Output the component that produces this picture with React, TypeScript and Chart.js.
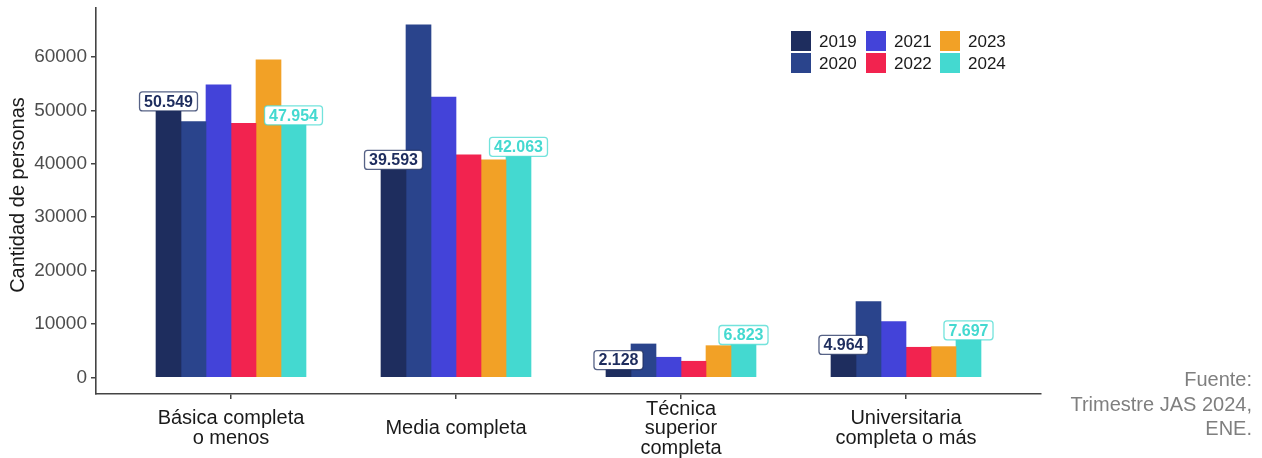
import React, { useEffect, useRef } from 'react';
import { Chart, registerables } from 'chart.js';

Chart.register(...registerables);

const categories: string[][] = [
  ['Básica completa', 'o menos'],
  ['Media completa'],
  ['Técnica', 'superior', 'completa'],
  ['Universitaria', 'completa o más'],
];
const years = ['2019', '2020', '2021', '2022', '2023', '2024'];
const colors = ['#1e2d5e', '#2a448c', '#4343d9', '#f2234f', '#f2a126', '#44d9d0'];

const v2019 = [50549, 39593, 2128, 4964];
const v2020 = [47900, 66000, 6270, 14200];
const v2021 = [54800, 52500, 3780, 10450];
const v2022 = [47600, 41700, 3030, 5650];
const v2023 = [59460, 40730, 5950, 5770];
const v2024 = [47954, 42063, 6823, 7697];

const yTicks = [0, 10000, 20000, 30000, 40000, 50000, 60000];
const labeledSeries = [0, 5];
const yTitle = 'Cantidad de personas';
const sourceLines = ['Fuente:', 'Trimestre JAS 2024,', 'ENE.'];

const FONT = '"Liberation Sans", Arial, Helvetica, sans-serif';

function fmt(v: number): string {
  return String(v).replace(/\B(?=(\d{3})+(?!\d))/g, '.');
}

export default function App() {
  const ref = useRef<HTMLCanvasElement>(null);

  useEffect(() => {
    if (!ref.current) return;
    const series = [v2019, v2020, v2021, v2022, v2023, v2024];
    const datasets = series.map((vals, i) => ({
      label: years[i],
      data: vals.map((v, j) => ({ x: j + 1, y: v })),
      backgroundColor: colors[i],
      borderWidth: 0,
      barThickness: 25,
    }));

    const labelPlugin = {
      id: 'valueLabels',
      afterDatasetsDraw(chart: any) {
        const ctx = chart.ctx;
        ctx.save();
        ctx.font = `bold 16px ${FONT}`;
        ctx.textAlign = 'center';
        ctx.textBaseline = 'middle';
        labeledSeries.forEach((di) => {
          const meta = chart.getDatasetMeta(di);
          meta.data.forEach((bar: any, j: number) => {
            const text = fmt(series[di][j]);
            const w = ctx.measureText(text).width + 9;
            const h = 19;
            const cx = bar.x;
            const cy = bar.y - 6;
            const x0 = cx - w / 2;
            const y0 = cy - h / 2;
            ctx.beginPath();
            ctx.roundRect(x0, y0, w, h, 3);
            ctx.fillStyle = '#ffffff';
            ctx.fill();
            ctx.lineWidth = 1.3;
            ctx.strokeStyle = colors[di];
            ctx.globalAlpha = 0.75;
            ctx.stroke();
            ctx.globalAlpha = 1;
            ctx.fillStyle = colors[di];
            ctx.fillText(text, cx, cy + 1);
          });
        });
        ctx.restore();
      },
    };

    const legendPlugin = {
      id: 'gridLegend',
      afterDraw(chart: any) {
        const ctx = chart.ctx;
        ctx.save();
        ctx.font = `17px ${FONT}`;
        ctx.textAlign = 'left';
        ctx.textBaseline = 'middle';
        const colX = [791, 866, 940];
        const rowY = [31, 53];
        chart.data.datasets.forEach((ds: any, i: number) => {
          const col = Math.floor(i / 2);
          const row = i % 2;
          const x = colX[col];
          const y = rowY[row];
          ctx.fillStyle = ds.backgroundColor;
          ctx.fillRect(x, y, 20, 20);
          ctx.fillStyle = '#1a1a1a';
          ctx.fillText(ds.label, x + 28, y + 11);
        });
        ctx.restore();
      },
    };

    const titlePlugin = {
      id: 'yTitle',
      afterDraw(chart: any) {
        const ctx = chart.ctx;
        ctx.save();
        ctx.translate(18, 195);
        ctx.rotate(-Math.PI / 2);
        ctx.font = `20px ${FONT}`;
        ctx.fillStyle = '#1a1a1a';
        ctx.textAlign = 'center';
        ctx.textBaseline = 'middle';
        ctx.fillText(yTitle, 0, 0);
        ctx.restore();
      },
    };

    const chart = new Chart(ref.current, {
      type: 'bar',
      data: { datasets: datasets as any },
      options: {
        animation: false,
        responsive: false,
        maintainAspectRatio: false,
        layout: { padding: { top: 8, right: 221, left: 0, bottom: 0 } },
        plugins: {
          legend: { display: false },
          tooltip: { enabled: false },
        },
        scales: {
          x: {
            type: 'linear',
            min: 0.4,
            max: 4.6,
            offset: false,
            afterBuildTicks: (s: any) => {
              s.ticks = categories.map((_, i) => ({ value: i + 1 }));
            },
            afterFit: (s: any) => {
              s.height = 64;
              s.paddingLeft = 0;
              s.paddingRight = 0;
            },
            grid: {
              offset: false,
              drawOnChartArea: false,
              drawTicks: true,
              tickLength: 5,
              color: '#444444',
              lineWidth: 1.5,
            },
            border: { display: true, color: '#444444', width: 1.6 },
            ticks: {
              autoSkip: false,
              maxRotation: 0,
              minRotation: 0,
              padding: 10,
              crossAlign: 'center',
              color: '#1a1a1a',
              font: { family: FONT, size: 20, lineHeight: '19.8px' },
              callback: (v: any) => categories[Math.round(Number(v)) - 1] ?? '',
            },
          },
          y: {
            min: -3100,
            max: 69170,
            afterBuildTicks: (s: any) => {
              s.ticks = yTicks.map((v) => ({ value: v }));
            },
            afterFit: (s: any) => {
              s.width = 96;
              s.paddingTop = 0;
              s.paddingBottom = 0;
            },
            grid: {
              drawOnChartArea: false,
              drawTicks: true,
              tickLength: 5,
              color: '#444444',
              lineWidth: 1.5,
            },
            border: { display: true, color: '#444444', width: 1.6 },
            ticks: {
              padding: 4,
              color: '#4d4d4d',
              font: { family: FONT, size: 19 },
              callback: (v: any) => String(v),
            },
            title: { display: false },
          },
        },
      } as any,
      plugins: [labelPlugin, legendPlugin, titlePlugin],
    });
    return () => chart.destroy();
  }, []);

  return (
    <div style={{ position: 'absolute', left: 0, top: 0, width: 1262, height: 458, background: '#fff' }}>
      <canvas ref={ref} width={1262} height={458} style={{ display: 'block' }} />
      <div
        style={{
          position: 'absolute',
          right: 10,
          top: 367,
          textAlign: 'right',
          fontFamily: FONT,
          fontSize: 20,
          lineHeight: '24.5px',
          color: '#7f7f7f',
        }}
      >
        {sourceLines.map((l, i) => (
          <div key={i}>{l}</div>
        ))}
      </div>
    </div>
  );
}
